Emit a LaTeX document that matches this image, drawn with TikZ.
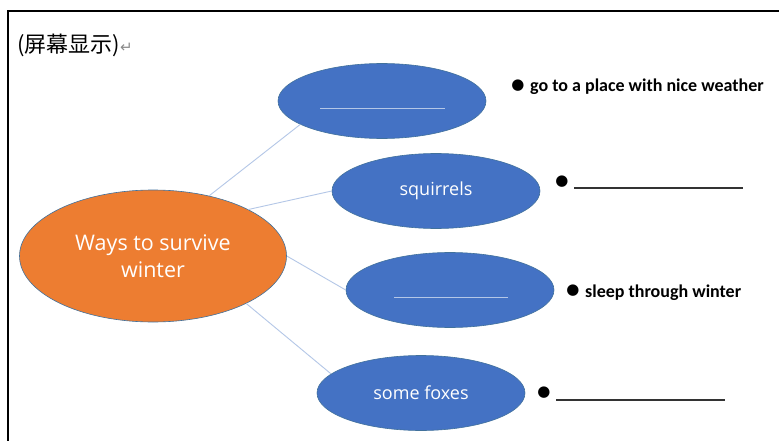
\documentclass[tikz,border=0pt]{standalone}
\usepackage{fontspec}
\setmainfont{Carlito}
\newfontfamily\cjk{Noto Sans CJK SC}
\newfontfamily\dv{DejaVu Sans}
\newfontfamily\lt{Open Sans}
\usetikzlibrary{shapes.geometric}
\definecolor{orgF}{HTML}{ED7D31}
\definecolor{bluF}{HTML}{4472C4}
\definecolor{conn}{HTML}{B4C7E7}
\definecolor{edgeC}{HTML}{41719C}
\definecolor{inblankC}{HTML}{B4C7E7}
\begin{document}
\begin{tikzpicture}[x=1pt,y=-1pt,
  oval/.style={ellipse, draw=edgeC, line width=0.6pt, inner sep=0pt, text=white, align=center},
  blueoval/.style={oval, fill=bluF, minimum width=208pt, minimum height=75pt, font=\lt\fontsize{18}{22}\selectfont},
  link/.style={draw=conn, line width=0.9pt},
  inblank/.style={draw=inblankC, line width=1pt},
  blank/.style={draw=black!80, line width=1.1pt},
  dot/.style={font=\dv\fontsize{15}{15}\selectfont, inner sep=0pt},
  say/.style={font=\bfseries\fontsize{18}{21}\selectfont, inner sep=0pt, anchor=base west}
]
\useasboundingbox (0,0) rectangle (779,441);
\fill[white] (0,0) rectangle (779,441);
\draw[line width=2pt] (8,441) -- (8,11) -- (779,11);
\node[anchor=west, inner sep=0pt] (title) at (17,45) {\fontsize{22}{26}\selectfont\cjk (屏幕显示)\textcolor{black!45}{\dv\fontsize{15}{15}\selectfont ↵}};

\node[oval, fill=orgF, minimum width=267pt, minimum height=132pt, font=\lt\fontsize{21.5}{27}\selectfont] (c) at (153,256) {Ways to survive\\winter};
\node[blueoval] (e1) at (382,101) {};
\node[blueoval] (e2) at (436,191) {squirrels};
\node[blueoval] (e3) at (450,290) {};
\node[blueoval] (e4) at (421,393) {some foxes};

\draw[inblank] ([shift={(-62,8)}]e1.center) -- ([shift={(63,8)}]e1.center);
\draw[inblank] ([shift={(-56,7)}]e3.center) -- ([shift={(58,7)}]e3.center);

\draw[link] (c.47) -- (e1.196);
\draw[link] (c.26) -- (e2.180);
\draw[link] (c.0) -- (e3.180);
\draw[link] (c.-27.5) -- (e4.168);

\node[dot] (d1) at (518,86) {●};
\node[say] (t1) at (530,92) {go to a place with nice weather};
\node[dot] (d2) at (562,182) {●};
\coordinate (l2a) at (574,188);
\coordinate (l2b) at (743,188);
\draw[blank] (l2a) -- (l2b);
\node[dot] (d3) at (573,291) {●};
\node[say] (t3) at (585,297) {sleep through winter};
\node[dot] (d4) at (544,393) {●};
\coordinate (l4a) at (556,400);
\coordinate (l4b) at (725,400);
\draw[blank] (l4a) -- (l4b);
\end{tikzpicture}
\end{document}
